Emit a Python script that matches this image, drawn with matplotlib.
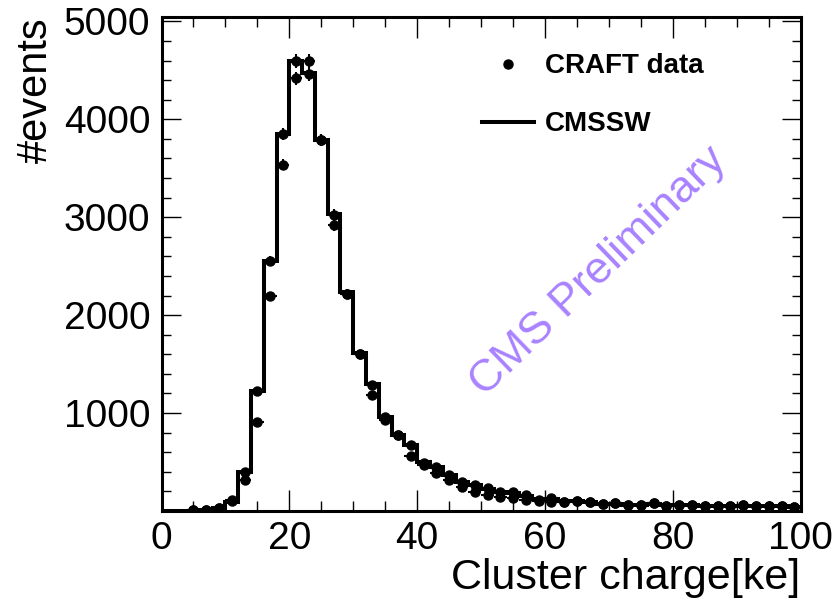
import numpy as np
import matplotlib
matplotlib.use("Agg")
import matplotlib.pyplot as plt
from matplotlib.lines import Line2D
from matplotlib.ticker import MultipleLocator, FixedLocator

plt.rcParams['font.family'] = ['Liberation Sans', 'DejaVu Sans']

# ---- data ----
bin_edges = np.arange(0, 102, 2)
bin_centers = bin_edges[:-1] + 1

cmssw = [0, 0, 5, 10, 30, 95, 400, 1230, 2550, 3845,
         4594, 4468, 3786, 3030, 2236, 1612, 1295, 964, 775, 675,
         503, 445, 365, 300, 262, 228, 195, 180, 158, 125,
         120, 100, 98, 88, 75, 75, 65, 65, 68, 58,
         58, 58, 54, 52, 50, 54, 50, 48, 48, 45]

craft_a = [0, 0, 8, 12, 35, 110, 402, 1230, 2549, 3852,
           4594, 4594, 3793, 3027, 2219, 1605, 1288, 964, 775, 673,
           490, 452, 367, 299, 265, 231, 197, 197, 160, 112,
           129, 95, 105, 88, 71, 78, 61, 65, 78, 54,
           61, 61, 54, 51, 51, 61, 51, 51, 51, 44]

craft_b = [0, 0, 8, 12, 35, 100, 317, 913, 2191, 3538,
           4417, 4458, 3786, 2917, 2219, 1605, 1186, 930, 775, 561,
           469, 384, 316, 248, 197, 163, 146, 129, 112, 105,
           95, 95, 105, 88, 71, 78, 61, 65, 78, 54,
           61, 61, 54, 51, 51, 61, 51, 51, 51, 44]

x_ticks = [0, 20, 40, 60, 80, 100]
y_ticks = [1000, 2000, 3000, 4000, 5000]

# ---- figure ----
fig = plt.figure(figsize=(8.36, 6.0), dpi=100)
ax = fig.add_axes([0.1932, 0.1483, 0.7646, 0.8233])

ax.stairs(cmssw, bin_edges, color='black', linewidth=2.9, baseline=None)

for series in (craft_a, craft_b):
    y = np.array(series, dtype=float)
    m = y > 0
    ax.errorbar(bin_centers[m], y[m], yerr=np.sqrt(y[m]), xerr=1.0,
                fmt='o', color='black', markersize=6.5, elinewidth=1.5,
                capsize=0, zorder=3)

ax.set_xlim(0, 100)
ax.set_ylim(0, 5044)

ax.xaxis.set_major_locator(FixedLocator(x_ticks))
ax.xaxis.set_minor_locator(MultipleLocator(5))
ax.yaxis.set_major_locator(FixedLocator(y_ticks))
ax.yaxis.set_minor_locator(MultipleLocator(200))
ax.set_xticklabels([str(v) for v in x_ticks])
ax.set_yticklabels([str(v) for v in y_ticks])

ax.tick_params(axis='both', which='both', direction='in', top=True, right=True, width=1.0)
ax.tick_params(axis='x', which='major', length=15, labelsize=28, pad=7)
ax.tick_params(axis='x', which='minor', length=7)
ax.tick_params(axis='y', which='major', length=14, labelsize=28, pad=8)
ax.tick_params(axis='y', which='minor', length=6.5)
for s in ax.spines.values():
    s.set_linewidth(2.2)

ax.set_xlabel('Cluster charge[ke]', fontsize=31, loc='right', labelpad=1)
ax.set_ylabel('#events', fontsize=30, loc='top', labelpad=6)

handles = [Line2D([], [], marker='o', linestyle='none', color='black', markersize=6.5),
           Line2D([], [], color='black', linewidth=2.9)]
leg = ax.legend(handles, ['CRAFT data', 'CMSSW'], loc='upper left',
                bbox_to_anchor=(0.463, 0.977), frameon=False,
                prop={'weight': 'bold', 'size': 20},
                handlelength=1.85, handletextpad=0.4, labelspacing=1.15)

ax.text(0.684, 0.485, 'CMS Preliminary', transform=ax.transAxes,
        rotation=44, fontsize=32.5, color='#A882FF',
        ha='center', va='center', rotation_mode='anchor')

fig.savefig('out.png', dpi=100)
